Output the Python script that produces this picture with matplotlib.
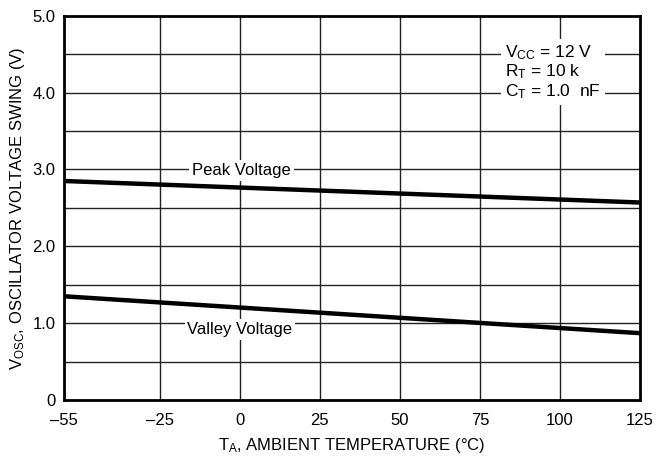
import numpy as np
import matplotlib
matplotlib.use('Agg')
import matplotlib.pyplot as plt

plt.rcParams['font.family'] = ['Liberation Sans', 'DejaVu Sans']
plt.rcParams['mathtext.fontset'] = 'custom'
plt.rcParams['mathtext.rm'] = 'Liberation Sans'
plt.rcParams['mathtext.it'] = 'Liberation Sans'

# Data
temps = [-55, 125]
peak_v = [2.85, 2.57]
valley_v = [1.35, 0.87]
x_ticks = [-55, -25, 0, 25, 50, 75, 100, 125]
x_tick_labels = ['\u201355', '\u201325', '0', '25', '50', '75', '100', '125']
y_ticks = [0, 1.0, 2.0, 3.0, 4.0, 5.0]
y_tick_labels = ['0', '1.0', '2.0', '3.0', '4.0', '5.0']

fig = plt.figure(figsize=(6.59, 4.63), dpi=100)
ax = fig.add_axes([0.097, 0.136, 0.874, 0.830])

ax.set_xlim(-55, 125)
ax.set_ylim(0, 5.0)

# grid: every x tick, every 0.5 V
for xv in x_ticks[1:-1]:
    ax.axvline(xv, color='#222222', lw=1.0, zorder=1)
for yv in np.arange(0.5, 5.0, 0.5):
    ax.axhline(yv, color='#222222', lw=1.0, zorder=1)

ax.plot(temps, peak_v, color='black', lw=3.2, zorder=3, solid_capstyle='butt')
ax.plot(temps, valley_v, color='black', lw=3.2, zorder=3, solid_capstyle='butt')

box = dict(facecolor='white', edgecolor='none', pad=2)
ax.text(0.5, 2.99, 'Peak Voltage', ha='center', va='center', fontsize=12, bbox=box, zorder=4)
ax.text(0, 0.92, 'Valley Voltage', ha='center', va='center', fontsize=12, bbox=box, zorder=4)

cond = ('V$_\\mathregular{CC}$ = 12 V\n'
        'R$_\\mathregular{T}$ = 10 k\n'
        'C$_\\mathregular{T}$ = 1.0  nF')
ax.text(83, 4.27, cond, ha='left', va='center', fontsize=12.5, linespacing=1.05,
        bbox=dict(facecolor='white', edgecolor='none', pad=3), zorder=4)

ax.set_xticks(x_ticks)
ax.set_xticklabels(x_tick_labels)
ax.set_yticks(y_ticks)
ax.set_yticklabels(y_tick_labels)
ax.tick_params(length=0, labelsize=12)
ax.tick_params(axis='x', pad=9)
ax.tick_params(axis='y', pad=6)

for s in ax.spines.values():
    s.set_linewidth(2.0)

ax.set_xlabel('T$_\\mathregular{A}$, AMBIENT TEMPERATURE (\u00b0C)', fontsize=12, labelpad=6)
ax.set_ylabel('V$_\\mathregular{OSC}$, OSCILLATOR VOLTAGE SWING (V)', fontsize=12, labelpad=4)

fig.savefig('out.png', dpi=100)
